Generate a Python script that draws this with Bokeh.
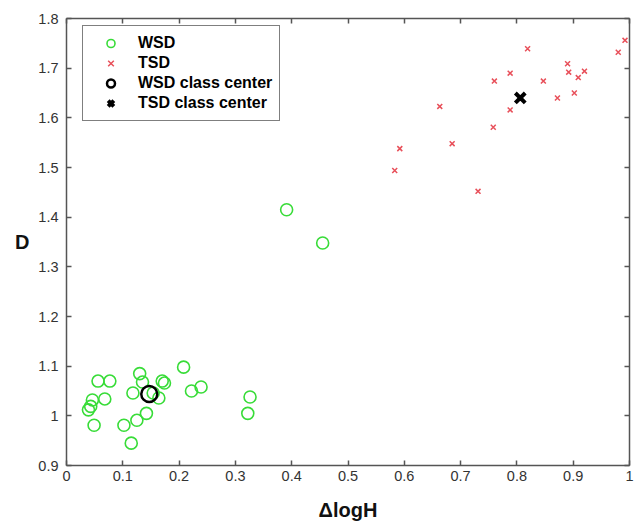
from bokeh.plotting import figure
from bokeh.models import (Range1d, FixedTicker, LinearAxis, Legend, LegendItem,
                          CustomLabelingPolicy)
from bokeh.embed import file_html
from bokeh.resources import INLINE

# WSD samples
wsd_x = [0.056, 0.077, 0.130, 0.135, 0.208, 0.170, 0.174, 0.118, 0.154, 0.164,
         0.222, 0.239, 0.068, 0.046, 0.043, 0.039, 0.049, 0.102, 0.125, 0.142,
         0.115, 0.326, 0.322, 0.391, 0.455]
wsd_y = [1.070, 1.070, 1.085, 1.068, 1.098, 1.070, 1.066, 1.046, 1.046, 1.036,
         1.050, 1.058, 1.034, 1.032, 1.019, 1.012, 0.981, 0.981, 0.991, 1.005,
         0.945, 1.038, 1.005, 1.415, 1.348]

# TSD samples
tsd_x = [0.819, 0.788, 0.760, 0.847, 0.890, 0.892, 0.909, 0.920, 0.902, 0.872,
         0.788, 0.663, 0.758, 0.685, 0.592, 0.583, 0.731, 0.980, 0.992]
tsd_y = [1.739, 1.690, 1.674, 1.674, 1.709, 1.692, 1.681, 1.694, 1.650, 1.640,
         1.616, 1.623, 1.581, 1.548, 1.538, 1.494, 1.452, 1.732, 1.756]

# class centers
wsd_center_x = [0.147]
wsd_center_y = [1.044]
tsd_center_x = [0.806]
tsd_center_y = [1.640]

x_ticks = [0.0, 0.1, 0.2, 0.3, 0.4, 0.5, 0.6, 0.7, 0.8, 0.9, 1.0]
x_tick_labels = ["0", "0.1", "0.2", "0.3", "0.4", "0.5", "0.6", "0.7", "0.8", "0.9", "1"]
y_ticks = [0.9, 1.0, 1.1, 1.2, 1.3, 1.4, 1.5, 1.6, 1.7, 1.8]
y_tick_labels = ["0.9", "1", "1.1", "1.2", "1.3", "1.4", "1.5", "1.6", "1.7", "1.8"]

FONT = "Liberation Sans"
AXIS_COLOR = "#555555"

p = figure(frame_width=563, frame_height=447, output_backend="svg",
           toolbar_location=None, x_range=Range1d(0, 1), y_range=Range1d(0.9, 1.8),
           min_border_left=66, min_border_bottom=61, min_border_top=18,
           min_border_right=5, x_axis_label="ΔlogH", y_axis_label="D")
p.grid.visible = False
p.outline_line_color = None
p.background_fill_color = "white"
p.border_fill_color = "white"

for ax, ticks, labels in ((p.xaxis[0], x_ticks, x_tick_labels),
                          (p.yaxis[0], y_ticks, y_tick_labels)):
    ax.ticker = FixedTicker(ticks=ticks)
    ax.major_label_overrides = {t: l for t, l in zip(ticks, labels)}
    ax.minor_tick_line_color = None
    ax.major_tick_in = 5
    ax.major_tick_out = 0
    ax.axis_line_color = AXIS_COLOR
    ax.axis_line_width = 1.5
    ax.major_tick_line_color = AXIS_COLOR
    ax.major_tick_line_width = 1.5
    ax.major_label_text_font = FONT
    ax.major_label_text_font_size = "14.5px"
    ax.major_label_text_color = "#333333"
    ax.axis_label_text_font = FONT
    ax.axis_label_text_font_style = "bold"
    ax.axis_label_text_color = "#111111"

p.xaxis[0].major_label_standoff = 5
p.xaxis[0].axis_label_standoff = 15
p.xaxis[0].axis_label_text_font_size = "20px"
p.yaxis[0].major_label_standoff = 8
p.yaxis[0].axis_label_standoff = 6
p.yaxis[0].axis_label_text_font_size = "20px"
p.yaxis[0].major_label_orientation = "horizontal"
p.yaxis[0].axis_label_orientation = "horizontal"

# mirrored axes (ticks only, no labels)
no_labels = "for (const i of Array.from(indices)) { indices.unset(i) }\nreturn indices"
top = LinearAxis(ticker=FixedTicker(ticks=x_ticks))
right = LinearAxis(ticker=FixedTicker(ticks=y_ticks))
for ax in (top, right):
    ax.major_label_policy = CustomLabelingPolicy(code=no_labels)
    ax.major_label_text_font_size = "1px"
    ax.major_label_standoff = 0
    ax.minor_tick_line_color = None
    ax.major_tick_in = 5
    ax.major_tick_out = 0
    ax.axis_line_color = AXIS_COLOR
    ax.axis_line_width = 1.5
    ax.major_tick_line_color = AXIS_COLOR
    ax.major_tick_line_width = 1.5
p.add_layout(top, "above")
p.add_layout(right, "right")

r_wsd = p.scatter(wsd_x, wsd_y, marker="circle", size=12, fill_color=None,
                  line_color="#38dc38", line_width=1.6)
r_tsd = p.scatter(tsd_x, tsd_y, marker="x", size=7, line_color="#e8505a",
                  line_width=1.5)
r_wc = p.scatter(wsd_center_x, wsd_center_y, marker="circle", size=16,
                 fill_color=None, line_color="black", line_width=2.5)
r_tc = p.scatter(tsd_center_x, tsd_center_y, marker="x", size=14,
                 line_color="black", line_width=4)

legend = Legend(items=[
    LegendItem(label="WSD", renderers=[r_wsd]),
    LegendItem(label="TSD", renderers=[r_tsd]),
    LegendItem(label="WSD class center", renderers=[r_wc]),
    LegendItem(label="TSD class center", renderers=[r_tc]),
], location=(16, 344))
legend.border_line_color = "black"
legend.border_line_width = 1.5
legend.background_fill_alpha = 1
legend.label_text_font = FONT
legend.label_text_font_style = "bold"
legend.label_text_font_size = "16px"
legend.label_text_color = "black"
legend.padding = 7
legend.spacing = 0
legend.margin = 0
legend.glyph_width = 41
legend.glyph_height = 20
legend.label_height = 20
legend.label_standoff = 7
p.add_layout(legend, "center")

open("out.html", "w").write(file_html(p, INLINE))
